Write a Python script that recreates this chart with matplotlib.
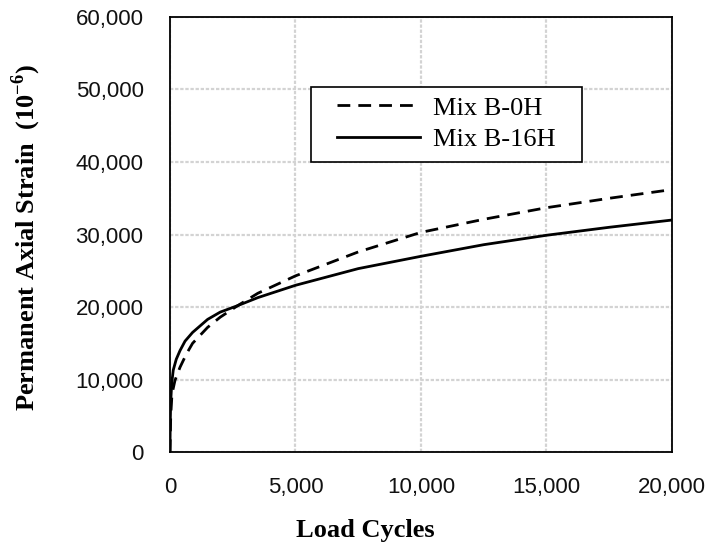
import matplotlib
matplotlib.use("Agg")
import matplotlib.pyplot as plt
from matplotlib.ticker import FuncFormatter
from matplotlib.patches import Rectangle

plt.rcParams['font.family'] = ['Liberation Serif', 'DejaVu Serif']
plt.rcParams['mathtext.fontset'] = 'custom'
plt.rcParams['mathtext.rm'] = 'Liberation Serif'
plt.rcParams['mathtext.bf'] = 'Liberation Serif:bold'

# Data
cycles_0h = [0, 30, 80, 200, 400, 650, 900, 1200, 1500, 2000, 2700, 3500, 5000, 7500, 10000, 12500, 15000, 17500, 20000]
strain_0h = [0, 5000, 8000, 9900, 11700, 13500, 15000, 16100, 17200, 18600, 20200, 21900, 24300, 27600, 30300, 32100, 33700, 35000, 36200]

cycles_16h = [0, 10, 30, 70, 130, 250, 400, 600, 900, 1200, 1500, 2000, 2700, 3500, 5000, 7500, 10000, 12500, 15000, 17500, 20000]
strain_16h = [0, 4000, 7000, 9500, 11300, 12800, 14000, 15300, 16500, 17400, 18300, 19300, 20200, 21300, 23000, 25300, 27000, 28600, 29900, 31000, 32000]

series_labels = ["Mix B-0H", "Mix B-16H"]
x_ticks = [0, 5000, 10000, 15000, 20000]
y_ticks = [0, 10000, 20000, 30000, 40000, 50000, 60000]

fig = plt.figure(figsize=(7.13, 5.46), dpi=100)
ax = fig.add_axes([0.2384, 0.172, 0.7041, 0.7969])

ax.plot(cycles_0h, strain_0h, color='black', lw=2.0, linestyle=(0, (4.6, 2.9)),
        label=series_labels[0], dash_capstyle='butt')
ax.plot(cycles_16h, strain_16h, color='black', lw=2.0, linestyle='-',
        label=series_labels[1])

ax.set_xlim(0, 20000)
ax.set_ylim(0, 60000)
ax.set_xticks(x_ticks)
ax.set_yticks(y_ticks)
fmt = FuncFormatter(lambda v, p: f"{int(v):,}")
ax.xaxis.set_major_formatter(fmt)
ax.yaxis.set_major_formatter(fmt)

ax.grid(True, color='#d3d3d3', lw=1.6, linestyle=(0, (1.5, 0.8)))
ax.set_axisbelow(True)
for s in ax.spines.values():
    s.set_color('black')
    s.set_linewidth(1.3)

ax.tick_params(axis='both', length=0, labelsize=16, colors='#111111')
for lab in ax.get_xticklabels() + ax.get_yticklabels():
    lab.set_fontfamily(['Liberation Sans', 'DejaVu Sans'])
ax.tick_params(axis='y', pad=19)
ax.tick_params(axis='x', pad=18)

ax.set_xlabel("Load Cycles", fontsize=19, fontweight='bold', va='baseline')
ax.xaxis.set_label_coords(0.39, -0.195)
ax.set_ylabel(r"Permanent Axial Strain  (10$^{\mathbf{-6}}$)", fontsize=19,
              fontweight='bold', va='center')
ax.yaxis.set_label_coords(-0.287, 0.494)

# legend box
box = Rectangle((0.281, 0.667), 0.540, 0.172, transform=ax.transAxes,
                facecolor='white', edgecolor='black', lw=1.2, zorder=4)
ax.add_patch(box)
leg = ax.legend(loc='upper left', bbox_to_anchor=(0.333, 0.818), fontsize=19,
                frameon=False, handlelength=3.15, handletextpad=0.5,
                borderpad=0, labelspacing=0.3, borderaxespad=0)
leg.set_zorder(5)

fig.savefig("out.png", dpi=100)
